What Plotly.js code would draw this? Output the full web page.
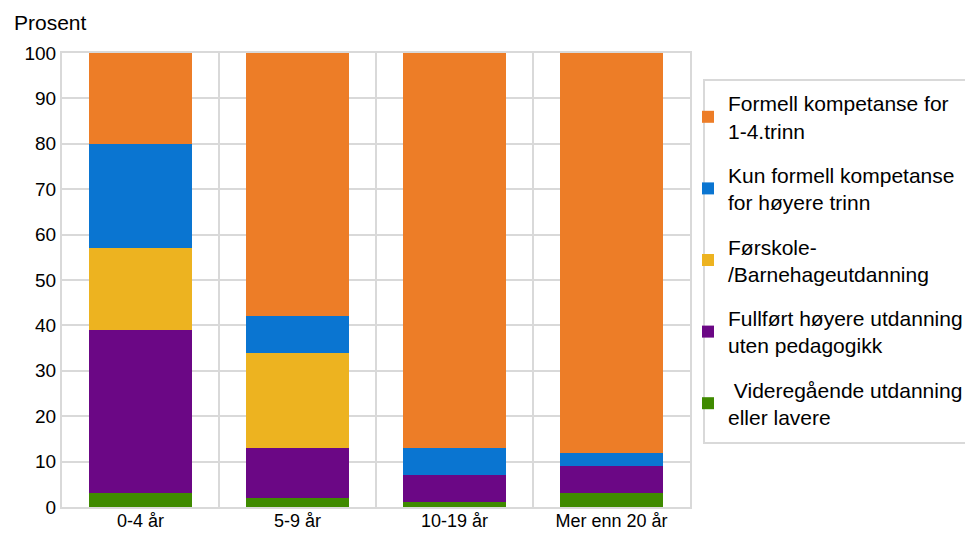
<!DOCTYPE html>
<html>
<head>
<meta charset="utf-8">
<script src="https://cdn.plot.ly/plotly-3.0.1.min.js"></script>
<style>html,body{margin:0;padding:0;background:#fff;}#chart{width:965px;height:533px;}</style>
</head>
<body>
<div id="chart"></div>
<script>
const categories = ["0-4 år", "5-9 år", "10-19 år", "Mer enn 20 år"];
const seriesNames = [
  " Videregående utdanning<br>eller lavere",
  "Fullført høyere utdanning<br>uten pedagogikk",
  "Førskole-<br>/Barnehageutdanning",
  "Kun formell kompetanse<br>for høyere trinn",
  "Formell kompetanse for<br>1-4.trinn"
];
const videregaende = [3, 2, 1, 3];
const hoyereUtenPed = [36, 11, 6, 6];
const forskole = [18, 21, 0, 0];
const kunHoyereTrinn = [23, 8, 6, 3];
const formell14 = [20, 58, 87, 88];
const seriesValues = [videregaende, hoyereUtenPed, forskole, kunHoyereTrinn, formell14];
const colors = ["#3F8A00", "#6B0785", "#EDB320", "#0A75D1", "#ED7D27"];
const yTicks = [0, 10, 20, 30, 40, 50, 60, 70, 80, 90, 100];

const W = 965, H = 533;
const L = 62, R = 690, T = 53, B = 507;
const px = x => (x - L) / (R - L);
const py = y => (B - y) / (B - T);

const traces = seriesValues.map((vals, i) => ({
  type: "bar",
  x: categories,
  y: vals,
  name: seriesNames[i],
  legendgroup: "g" + i,
  legendrank: 100 - i,
  marker: {color: colors[i], line: {width: 0}},
  hoverinfo: "x+y+name"
}));

const layout = {
  width: W, height: H,
  margin: {l: L, r: W - R, t: T, b: H - B, pad: 0, autoexpand: false},
  paper_bgcolor: "#ffffff",
  plot_bgcolor: "#ffffff",
  barmode: "stack",
  bargap: 0.34,
  font: {family: "Liberation Sans, Arial, sans-serif", size: 20, color: "#000000"},
  xaxis: {
    type: "category",
    tickson: "boundaries",
    showgrid: true, gridcolor: "#d9d9d9", gridwidth: 2,
    showline: true, linecolor: "#d9d9d9", linewidth: 2, mirror: true,
    ticks: "", ticklen: 0,
    ticklabelstandoff: -4,
    tickfont: {size: 18},
    fixedrange: true
  },
  yaxis: {
    range: [0, 100],
    tickvals: yTicks,
    showgrid: true, gridcolor: "#d9d9d9", gridwidth: 2,
    showline: true, linecolor: "#d9d9d9", linewidth: 2, mirror: true,
    zeroline: false,
    ticks: "", ticklen: 0,
    tickfont: {size: 19},
    fixedrange: true
  },
  legend: {
    x: px(688), xanchor: "left",
    y: py(83), yanchor: "top",
    traceorder: "grouped",
    tracegroupgap: 14,
    font: {size: 21},
    bgcolor: "rgba(0,0,0,0)",
    borderwidth: 0,
    itemclick: false, itemdoubleclick: false
  },
  shapes: [{
    type: "rect", xref: "paper", yref: "paper",
    x0: px(704), x1: px(990), y0: py(443), y1: py(80),
    line: {color: "#d9d9d9", width: 2},
    fillcolor: "rgba(0,0,0,0)",
    layer: "below"
  }],
  annotations: [{
    text: "Prosent", xref: "paper", yref: "paper",
    x: px(12), y: py(22), xanchor: "left", yanchor: "middle",
    showarrow: false, font: {size: 21, color: "#000000"}
  }]
};

Plotly.newPlot("chart", traces, layout, {displayModeBar: false, staticPlot: true});
</script>
</body>
</html>
